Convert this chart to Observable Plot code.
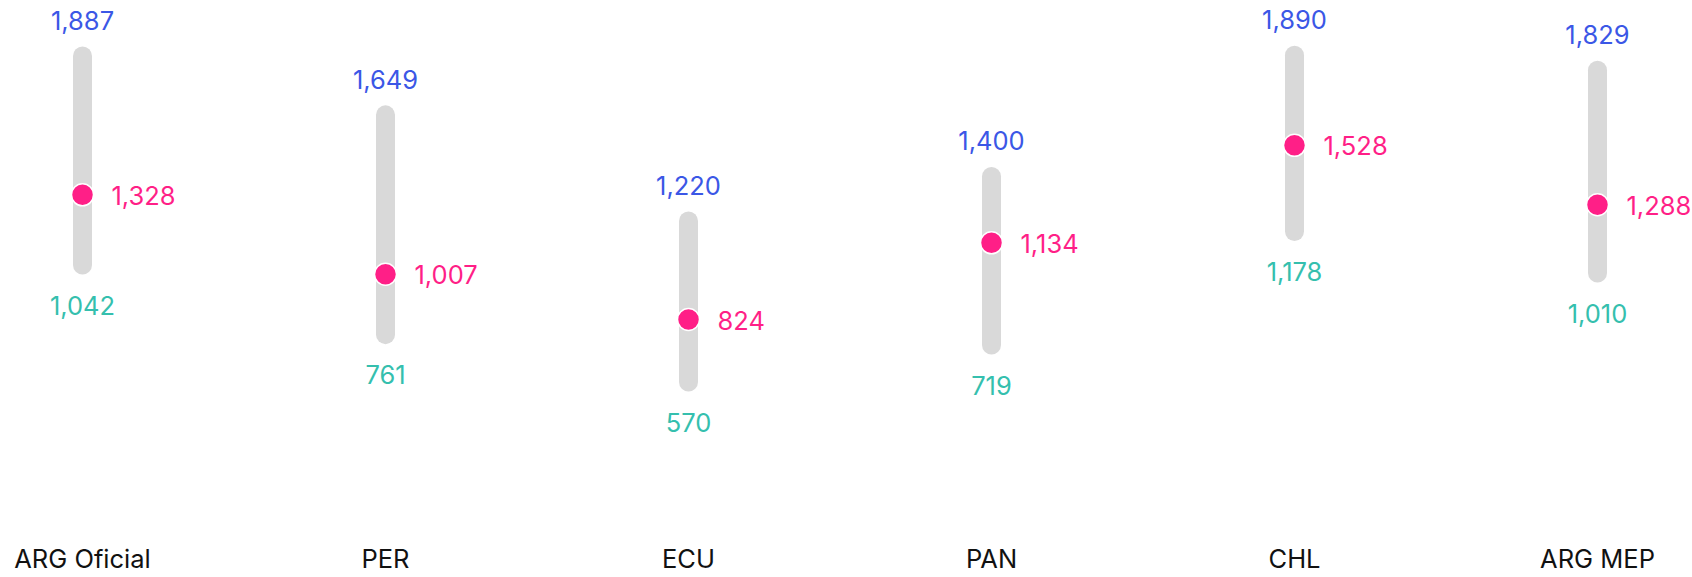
<!DOCTYPE html>
<html>
<head>
<meta charset="utf-8">
<script src="https://cdn.jsdelivr.net/npm/d3@7"></script>
<script src="https://cdn.jsdelivr.net/npm/@observablehq/plot@0.6"></script>
<style>
  html, body { margin: 0; padding: 0; background: #fff; }
  #chart svg { display: block; }
</style>
</head>
<body>
<div id="chart"></div>
<script>
const categories = ["ARG Oficial", "PER", "ECU", "PAN", "CHL", "ARG MEP"];
const maxValues = [1887, 1649, 1220, 1400, 1890, 1829];
const minValues = [1042, 761, 570, 719, 1178, 1010];
const midValues = [1328, 1007, 824, 1134, 1528, 1288];

const data = categories.map((c, i) => ({cat: c, max: maxValues[i], min: minValues[i], mid: midValues[i]}));
const fmt = d3.format(",");

const chart = Plot.plot({
  width: 1692,
  height: 577,
  marginLeft: 82,
  marginRight: 95,
  marginTop: 28,
  marginBottom: 54,
  style: {fontFamily: "Inter, 'Noto Sans', sans-serif", background: "#fff"},
  x: {type: "point", domain: categories, padding: 0, axis: null},
  y: {domain: [0, 2000], axis: null},
  marks: [
    Plot.ruleX(data, {x: "cat", y1: "min", y2: "max", stroke: "#d9d9d9", strokeWidth: 19, strokeLinecap: "round"}),
    Plot.dot(data, {x: "cat", y: "mid", r: 11, fill: "#ff1f87", stroke: "white", strokeWidth: 1.5}),
    Plot.text(data, {x: "cat", y: "max", text: d => fmt(d.max), dy: -35, fill: "#3b57e6", fontSize: 25.5}),
    Plot.text(data, {x: "cat", y: "min", text: d => fmt(d.min), dy: 41, fill: "#35bfae", fontSize: 25.5}),
    Plot.text(data, {x: "cat", y: "mid", text: d => fmt(d.mid), dx: 29, dy: 2, textAnchor: "start", fill: "#ff1f87", fontSize: 25.5}),
    Plot.text(categories, {x: d => d, text: d => d, frameAnchor: "bottom", lineAnchor: "middle", dy: 36, fill: "#111", fontSize: 25.5})
  ]
});
document.getElementById("chart").appendChild(chart);
</script>
</body>
</html>
